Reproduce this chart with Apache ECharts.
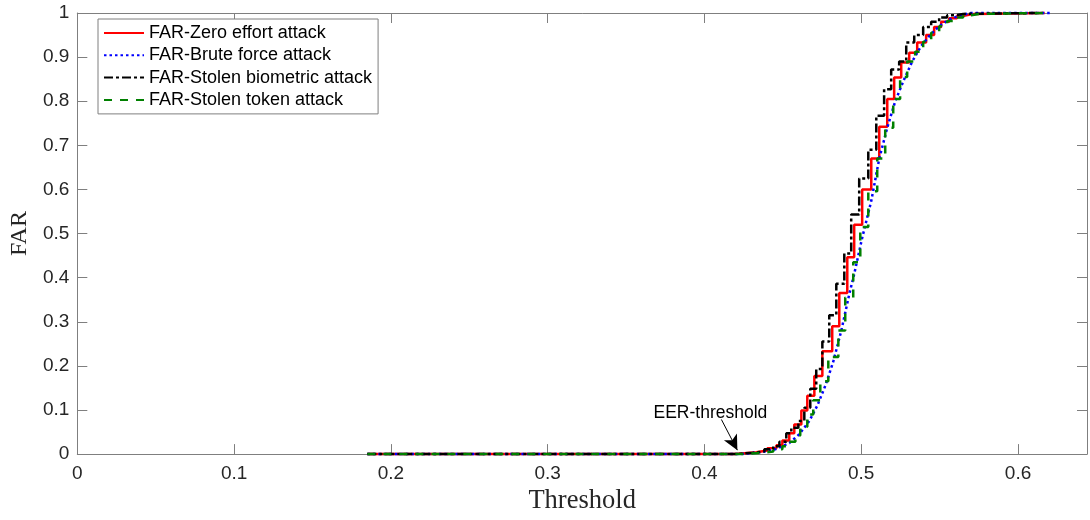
<!DOCTYPE html>
<html>
<head>
<meta charset="utf-8">
<script src="https://cdn.jsdelivr.net/npm/echarts@6/dist/echarts.min.js"></script>
<style>html,body{margin:0;padding:0;background:#fff}#c{width:1090px;height:520px}</style>
</head>
<body>
<div id="c"></div>
<script>
// ---- data ----
const seriesNames = ['FAR-Zero effort attack','FAR-Brute force attack','FAR-Stolen biometric attack','FAR-Stolen token attack'];
const xTicks = [0,0.1,0.2,0.3,0.4,0.5,0.6];
const yTicks = [0,0.1,0.2,0.3,0.4,0.5,0.6,0.7,0.8,0.9,1];

const thrZero = [0.185,0.4191,0.4255,0.4331,0.4401,0.4459,0.4497,0.4541,0.4573,0.4618,0.4656,0.4701,0.4752,0.4815,0.4860,0.4911,0.4955,0.5006,0.5064,0.5115,0.5166,0.5210,0.5255,0.5306,0.5357,0.5414,0.5465,0.5510,0.5561,0.5611,0.5662,0.5720,0.617];
const farZero = [0,0.002,0.004,0.008,0.013,0.020,0.031,0.047,0.067,0.099,0.132,0.177,0.233,0.290,0.365,0.446,0.520,0.600,0.670,0.742,0.805,0.854,0.888,0.910,0.933,0.950,0.968,0.980,0.988,0.994,0.998,1,1];

const thrBrute = [0.185,0.4223,0.4350,0.4446,0.4541,0.4605,0.4669,0.4720,0.4771,0.4822,0.4873,0.4924,0.4955,0.5006,0.5064,0.5115,0.5166,0.5217,0.5274,0.5325,0.5382,0.5439,0.5497,0.5561,0.5624,0.5701,0.622];
const farBrute = [0,0,0.004,0.010,0.025,0.045,0.075,0.110,0.155,0.210,0.280,0.363,0.408,0.490,0.574,0.670,0.740,0.800,0.850,0.890,0.925,0.950,0.970,0.985,0.994,1,1];

const thrBio = [0.185,0.4172,0.4236,0.4312,0.4382,0.4439,0.4478,0.4522,0.4554,0.4599,0.4637,0.4675,0.4713,0.4752,0.4796,0.4841,0.4892,0.4936,0.4987,0.5045,0.5096,0.5146,0.5191,0.5242,0.5287,0.5338,0.5395,0.5446,0.5497,0.5548,0.5599,0.5650,0.612];
const farBio = [0,0.001,0.003,0.006,0.011,0.018,0.028,0.047,0.060,0.075,0.105,0.148,0.193,0.255,0.315,0.386,0.455,0.543,0.625,0.690,0.767,0.827,0.872,0.890,0.933,0.950,0.968,0.980,0.990,0.995,0.998,1,1];

const thrToken = [0.185,0.4229,0.4293,0.4369,0.4439,0.4497,0.4535,0.4580,0.4611,0.4656,0.4694,0.4739,0.4790,0.4854,0.4898,0.4949,0.4994,0.5045,0.5102,0.5153,0.5204,0.5248,0.5293,0.5344,0.5395,0.5446,0.5497,0.5548,0.5599,0.5650,0.5701,0.5758,0.617];
const farToken = [0,0.001,0.003,0.006,0.011,0.018,0.028,0.042,0.062,0.090,0.122,0.165,0.220,0.280,0.355,0.435,0.515,0.596,0.670,0.740,0.805,0.855,0.890,0.912,0.935,0.955,0.970,0.982,0.990,0.995,0.998,1,1];

const eerArrowFrom = [0.4108,0.0785];
const eerArrowTo = [0.4210,0.009];
const eerTextAt = [0.4038,0.0919];
const eerText = 'EER-threshold';

// ---- chart ----
const pairs = (xs, ys) => xs.map((x, i) => [x, ys[i]]);
const axisColor = '#7f7f7f';
const labelColor = '#262626';
const sans = 'Liberation Sans, Arial, sans-serif';
const serif = 'Liberation Serif, Times New Roman, serif';
const fmt = v => String(Math.round(v * 10) / 10);

const chart = echarts.init(document.getElementById('c'), null, {renderer: 'canvas'});

function xAx(pos, showLabel) {
  return {
    type: 'value', position: pos, min: 0, max: 0.644, interval: 0.1,
    axisLine: {show: true, onZero: false, lineStyle: {color: axisColor, width: 1}},
    axisTick: {show: true, inside: true, length: 10, lineStyle: {color: axisColor}},
    splitLine: {show: false},
    axisLabel: {show: showLabel, showMaxLabel: false, formatter: v => xTicks.some(t => Math.abs(t - v) < 1e-9) ? fmt(v) : '',
      color: labelColor, fontSize: 19, fontFamily: sans, margin: 10},
    name: showLabel ? 'Threshold' : '', nameLocation: 'middle', nameGap: 32,
    nameTextStyle: {color: labelColor, fontSize: 26.5, fontFamily: serif}
  };
}
function yAx(pos, showLabel) {
  return {
    type: 'value', position: pos, min: 0, max: 1, interval: 0.1,
    axisLine: {show: true, onZero: false, lineStyle: {color: axisColor, width: 1}},
    axisTick: {show: true, inside: true, length: 10, lineStyle: {color: axisColor}},
    splitLine: {show: false},
    axisLabel: {show: showLabel, formatter: v => yTicks.some(t => Math.abs(t - v) < 1e-9) ? fmt(v) : '',
      color: labelColor, fontSize: 19, fontFamily: sans, margin: 8},
    name: showLabel ? 'FAR' : '', nameLocation: 'middle', nameGap: 43,
    nameTextStyle: {color: labelColor, fontSize: 24, fontFamily: serif}
  };
}

function lineSeries(name, data, color, dash, step) {
  return {
    name, type: 'line', data, step: step ? 'end' : false, symbol: 'none', clip: false,
    xAxisIndex: 0, yAxisIndex: 0, animation: false,
    lineStyle: {color, width: 2.5, type: dash, cap: 'butt'},
    itemStyle: {color}
  };
}

const s0 = lineSeries(seriesNames[0], pairs(thrZero, farZero), '#ff0000', 'solid', true);
const s1 = lineSeries(seriesNames[1], pairs(thrBrute, farBrute), '#0000ff', [2.5, 3], false);
const s2 = lineSeries(seriesNames[2], pairs(thrBio, farBio), '#000000', [9, 3, 3, 3], true);
const s3 = lineSeries(seriesNames[3], pairs(thrToken, farToken), '#008000', [8, 8], true);

s3.markLine = {
  silent: true, animation: false, symbol: ['none', 'arrow'], symbolSize: [11, 15],
  lineStyle: {color: '#000', width: 1, type: 'solid'}, label: {show: false},
  data: [[{coord: eerArrowFrom}, {coord: eerArrowTo}]]
};
s3.markPoint = {
  silent: true, animation: false,
  data: [{coord: eerTextAt, symbol: 'rect', symbolSize: 1, itemStyle: {color: 'rgba(0,0,0,0)'},
    label: {show: true, position: 'inside', formatter: eerText, color: '#000', fontSize: 17.5, fontFamily: sans}}]
};

chart.setOption({
  animation: false,
  backgroundColor: '#fff',
  grid: {left: 77, right: 3, top: 13, bottom: 61, containLabel: false},
  xAxis: [xAx('bottom', true), xAx('top', false)],
  yAxis: [yAx('left', true), yAx('right', false)],
  legend: {
    orient: 'vertical', left: 98, top: 19, padding: [4, 6, 4, 5],
    itemWidth: 40, itemHeight: 14, itemGap: 2.3,
    backgroundColor: '#fff', borderColor: axisColor, borderWidth: 1,
    itemStyle: {color: 'rgba(0,0,0,0)', borderWidth: 0, opacity: 0},
    textStyle: {color: '#000', fontSize: 18, fontFamily: sans, lineHeight: 20},
    data: seriesNames
  },
  series: [s0, s1, s2, s3]
});
</script>
</body>
</html>
